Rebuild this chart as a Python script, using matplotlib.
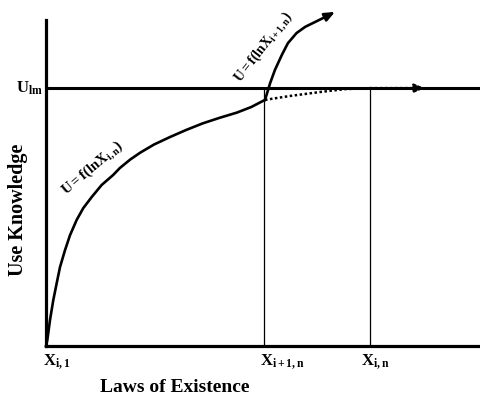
import matplotlib
matplotlib.use("Agg")
import matplotlib.pyplot as plt
import numpy as np

plt.rcParams['font.family'] = ['Liberation Serif', 'DejaVu Serif']
plt.rcParams['font.weight'] = 'bold'
plt.rcParams['mathtext.fontset'] = 'custom'
plt.rcParams['mathtext.rm'] = 'Liberation Serif:bold'
plt.rcParams['mathtext.it'] = 'Liberation Serif:bold'
plt.rcParams['mathtext.bf'] = 'Liberation Serif:bold'

# Curve U = f(ln X_{i,n}) up to the branching point
curve1_x = [0.0, 0.3, 0.93, 1.69, 2.48, 3.24, 4.40, 5.56, 7.11, 8.63, 10.58, 12.89,
            15.58, 17.1, 19.5, 21.8, 25.0, 28.7, 32.5, 36.3, 40.2, 44.2, 47.5, 50.7]
curve1_y = [0.0, 1.8, 8.0, 14.1, 19.3, 24.2, 29.4, 34.0, 38.7, 42.3, 45.7, 49.4,
            52.5, 54.6, 57.2, 59.3, 61.8, 64.1, 66.3, 68.3, 70.0, 71.6, 73.3, 75.5]
# Steep branch U = f(ln X_{i+1,n})
curve2_x = [50.7, 51.9, 53.0, 54.6, 56.0, 58.0, 60.0, 62.3, 64.6, 66.9]
curve2_y = [75.5, 80.7, 84.7, 89.3, 92.9, 96.0, 97.9, 99.4, 100.9, 102.5]
# Dotted saturating continuation
dotted_x = [50.7, 56.5, 63.4, 69.2, 75.0, 87.7]
dotted_y = [75.5, 76.7, 77.9, 78.8, 79.1, 79.1]

u_level = 79.1
x_marks = [0.0, 50.5, 75.0]
x_labels = [r'$\mathregular{X_{i,1}}$', r'$\mathregular{X_{i+1,n}}$', r'$\mathregular{X_{i,n}}$']

fig = plt.figure(figsize=(4.8, 4.01), dpi=100)
ax = fig.add_axes([46/480, 55/401, 432/480, 326/401])
ax.set_xlim(0, 100)
ax.set_ylim(0, 100)
for s in ['top', 'right']:
    ax.spines[s].set_visible(False)
ax.spines['left'].set_linewidth(2.3)
ax.spines['bottom'].set_linewidth(2.3)
ax.set_xticks([])
ax.set_yticks([])

# horizontal U level line
ax.plot([0, 100.5], [u_level, u_level], color='black', lw=2.2, clip_on=False, solid_capstyle='butt')
# vertical markers
ax.plot([x_marks[1], x_marks[1]], [0, u_level], color='black', lw=0.9)
ax.plot([x_marks[2], x_marks[2]], [0, u_level], color='black', lw=0.9)

# main curve
ax.plot(curve1_x, curve1_y, color='black', lw=1.9, clip_on=False, solid_joinstyle='round')
ax.plot(curve2_x[:-1], curve2_y[:-1], color='black', lw=1.9, clip_on=False, solid_joinstyle='round')
ax.annotate('', xy=(curve2_x[-1], curve2_y[-1]), xytext=(curve2_x[-2], curve2_y[-2]),
            arrowprops=dict(arrowstyle='-|>,head_length=0.6,head_width=0.25', color='black', lw=1.9,
                            shrinkA=0, shrinkB=0), annotation_clip=False)
ax.plot(dotted_x[:-1], dotted_y[:-1], color='black', lw=1.8, ls=(0, (1, 1)), clip_on=False)
ax.annotate('', xy=(dotted_x[-1], dotted_y[-1]), xytext=(dotted_x[-2], dotted_y[-2]),
            arrowprops=dict(arrowstyle='-|>,head_length=0.6,head_width=0.25', color='black', lw=1.8,
                            ls=(0, (1, 1)), shrinkA=0, shrinkB=0), annotation_clip=False)

# labels
ax.text(-0.7, u_level, r'$\mathregular{U_{lm}}$', ha='right', va='center', fontsize=12, clip_on=False)
label_x = [-0.7, 49.5, 72.9]
for lx, lab in zip(label_x, x_labels):
    ax.text(lx, -1.8, lab, ha='left', va='top', fontsize=12, clip_on=False)
ax.text(29.9, -12.6, 'Laws of Existence', ha='center', va='center', fontsize=14, fontweight='bold', clip_on=False)
ax.text(-6.5, 41.7, 'Use Knowledge', ha='center', va='center', rotation=90, fontsize=14.5, fontweight='bold', clip_on=False)
ax.text(10.8, 54.5, r'$\mathregular{U = f(lnX_{i,n})}$', ha='center', va='center', rotation=40, fontsize=10.5, clip_on=False)
ax.text(50.3, 91.7, r'$\mathregular{U= f(lnX_{i+1,n})}$', ha='center', va='center', rotation=52, fontsize=10, clip_on=False)

fig.savefig('out.png', dpi=100)
